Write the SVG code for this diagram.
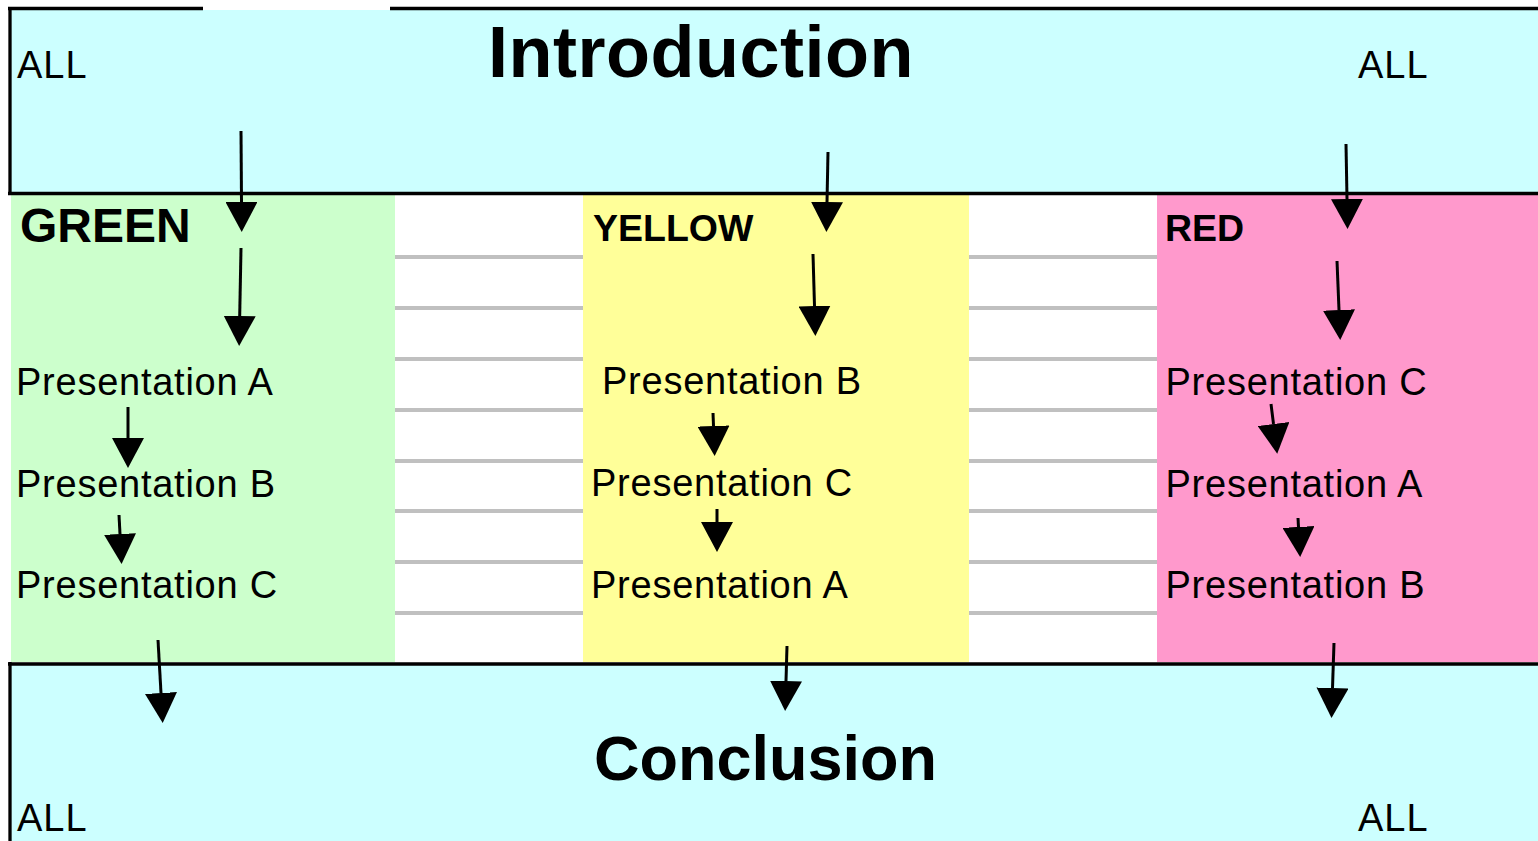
<svg xmlns="http://www.w3.org/2000/svg" width="1538" height="841" viewBox="0 0 1538 841">
  <style>
    .txt { font-family: "Liberation Sans", Arial, sans-serif; fill: #000; }
    .title { font-weight: bold; font-size: 72px; letter-spacing: 0.5px; }
    .concl { font-weight: bold; font-size: 63px; }
    .all { font-size: 38px; letter-spacing: 1px; }
    .pres { font-size: 38px; letter-spacing: 0.75px; }
    .head { font-weight: bold; font-size: 37.5px; }
    .border { stroke: #000; stroke-width: 3.3; fill: none; }
    .grid { stroke: #C0C0C0; stroke-width: 4; }
    .conn { stroke: #000; stroke-width: 3; fill: none; marker-end: url(#ah); }
  </style>
  <defs>
    <marker id="ah" viewBox="0 -16 30 32" refX="0" refY="0" markerWidth="30" markerHeight="32" markerUnits="userSpaceOnUse" orient="auto">
      <path d="M0,-16 L30,0 L0,16 Z" fill="#000"/>
    </marker>
  </defs>
  <rect x="0" y="0" width="1538" height="841" fill="#FFFFFF"/>

  <g id="gaps">
    <path class="grid" d="M395,257H583M395,308H583M395,359H583M395,410H583M395,461H583M395,511H583M395,562H583M395,613H583"/>
    <path class="grid" d="M969,257H1157M969,308H1157M969,359H1157M969,410H1157M969,461H1157M969,511H1157M969,562H1157M969,613H1157"/>
  </g>

  <g id="green">
    <rect x="11" y="195" width="384" height="467" fill="#CCFFCC"/>
    <text class="txt head" x="20" y="242" style="font-size:48px">GREEN</text>
    <text class="txt pres" x="16" y="395">Presentation A</text>
    <text class="txt pres" x="16" y="497">Presentation B</text>
    <text class="txt pres" x="16" y="598">Presentation C</text>
  </g>

  <g id="yellow">
    <rect x="583" y="195" width="386" height="467" fill="#FFFF99"/>
    <text class="txt head" x="593" y="241">YELLOW</text>
    <text class="txt pres" x="602" y="394">Presentation B</text>
    <text class="txt pres" x="591" y="496">Presentation C</text>
    <text class="txt pres" x="591" y="598">Presentation A</text>
  </g>

  <g id="red">
    <rect x="1157" y="195" width="381" height="467" fill="#FF99CC"/>
    <text class="txt head" x="1165" y="241">RED</text>
    <text class="txt pres" x="1165.5" y="395">Presentation C</text>
    <text class="txt pres" x="1165.5" y="497">Presentation A</text>
    <text class="txt pres" x="1165.5" y="598">Presentation B</text>
  </g>

  <g id="introduction">
    <rect x="10" y="10" width="1528" height="183" fill="#CCFFFF"/>
    <path class="border" d="M8,8.5H203M390,8.5H1538M10,7V195M8,193.5H1538"/>
    <text class="txt title" x="488" y="77">Introduction</text>
    <text class="txt all" x="17" y="78">ALL</text>
    <text class="txt all" x="1358" y="78">ALL</text>
  </g>

  <g id="conclusion">
    <rect x="10" y="664" width="1528" height="177" fill="#CCFFFF"/>
    <path class="border" d="M8,664H1538M10,662V841"/>
    <text class="txt concl" x="594" y="780">Conclusion</text>
    <text class="txt all" x="17" y="831">ALL</text>
    <text class="txt all" x="1358" y="831">ALL</text>
  </g>

  <g id="connectors">
    <line class="conn" x1="241" y1="131" x2="241.5" y2="202"/>
    <line class="conn" x1="241" y1="248" x2="239.7" y2="316"/>
    <line class="conn" x1="128" y1="407" x2="128" y2="438"/>
    <line class="conn" x1="119" y1="515" x2="120" y2="534"/>
    <line class="conn" x1="158" y1="640" x2="161" y2="693"/>
    <line class="conn" x1="828" y1="152" x2="827" y2="202"/>
    <line class="conn" x1="813" y1="254" x2="814.5" y2="306"/>
    <line class="conn" x1="713" y1="413" x2="713.5" y2="426"/>
    <line class="conn" x1="717" y1="509" x2="717" y2="522"/>
    <line class="conn" x1="787" y1="646" x2="786" y2="681"/>
    <line class="conn" x1="1346" y1="144" x2="1347" y2="199"/>
    <line class="conn" x1="1337" y1="261" x2="1339" y2="310"/>
    <line class="conn" x1="1271" y1="404" x2="1273.5" y2="424"/>
    <line class="conn" x1="1298" y1="518" x2="1298.5" y2="527"/>
    <line class="conn" x1="1334" y1="643" x2="1332.5" y2="688"/>
  </g>
</svg>
